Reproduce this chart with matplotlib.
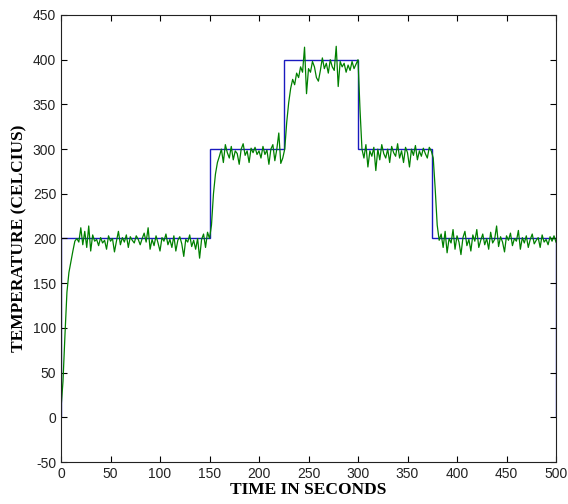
import numpy as np
import matplotlib
matplotlib.use("Agg")
import matplotlib.pyplot as plt

plt.rcParams["axes.unicode_minus"] = False

# Setpoint (blue step line)
step_times = [0, 150, 225, 300, 375, 500]
step_levels = [200, 300, 400, 300, 200]

# Measured temperature, sampled every 2 s, one list per setpoint phase
temp_phase1 = [10, 40, 92, 140, 162, 174, 186, 197, 200, 196,
               212, 193, 208, 190, 214, 186, 204, 197, 199, 192,
               201, 195, 198, 188, 203, 197, 200, 185, 197, 208,
               193, 201, 196, 204, 190, 202, 198, 195, 203, 199,
               193, 200, 206, 196, 212, 188, 199, 192, 203, 195,
               186, 201, 197, 205, 193, 199, 190, 203, 186, 198,
               202, 194, 180, 199, 196, 204, 191, 198, 188, 200,
               178, 199, 205, 190, 207]
temp_phase2 = [200, 215, 250, 272, 285, 292, 300, 285, 305, 296,
               290, 303, 288, 298, 295, 283, 300, 306, 293, 298,
               285, 301, 296, 302, 294, 298, 290, 303, 294, 299,
               283, 300, 305, 287, 300, 318, 284, 290]
temp_phase3 = [300, 330, 352, 368, 378, 372, 385, 380, 392, 386,
               414, 362, 390, 386, 398, 392, 380, 376, 388, 402,
               390, 396, 385, 400, 392, 388, 415, 370, 398, 392,
               396, 386, 394, 388, 398, 390, 395, 400]
temp_phase4 = [345, 300, 290, 305, 280, 298, 292, 302, 276, 300,
               288, 305, 295, 290, 300, 285, 303, 296, 292, 306,
               290, 298, 285, 302, 296, 280, 300, 293, 304, 288,
               298, 292, 301, 295, 290, 302, 298]
temp_phase5 = [290, 255, 215, 198, 205, 190, 208, 184, 200, 195,
               210, 188, 203, 196, 182, 201, 208, 192, 199, 186,
               204, 197, 210, 190, 198, 205, 193, 200, 188, 207,
               195, 199, 214, 191, 202, 196, 185, 203, 198, 206,
               192, 200, 197, 209, 188, 201, 195, 203, 190, 199,
               205, 194, 198, 201, 190, 204, 196, 199, 193, 202,
               197, 203, 196]
phase_starts = [0, 150, 226, 302, 376]

phases = [temp_phase1, temp_phase2, temp_phase3, temp_phase4, temp_phase5]
t_meas = np.concatenate([np.arange(s, s + 2 * len(p), 2)[:len(p)]
                         for s, p in zip(phase_starts, phases)])
temp = np.concatenate(phases)

fig = plt.figure(figsize=(5.68, 5.04), dpi=100)
ax = fig.add_axes([61 / 568, 1 - 462 / 504, 495 / 568, 447 / 504])

ax.stairs(step_levels, step_times, color=(0.1, 0.1, 0.75), linewidth=1.0)
ax.plot(t_meas, temp, color=(0, 0.5, 0), linewidth=0.9)

ax.set_xlim(0, 500)
ax.set_ylim(-50, 450)
ax.set_xticks(range(0, 501, 50))
ax.set_yticks(range(-50, 451, 50))
ax.tick_params(direction="in", top=True, right=True, length=4,
               labelsize=10, labelcolor="#222222")
for lab in ax.get_xticklabels() + ax.get_yticklabels():
    lab.set_family("Liberation Sans")
for sp in ax.spines.values():
    sp.set_color("#222222")
    sp.set_linewidth(0.8)

ax.set_xlabel("TIME IN SECONDS", fontfamily="Liberation Serif",
              fontweight="bold", fontsize=12.5, labelpad=1)
ax.set_ylabel("TEMPERATURE (CELCIUS)", fontfamily="Liberation Serif",
              fontweight="bold", fontsize=12.5, labelpad=4)

fig.savefig("out.png", dpi=100)
